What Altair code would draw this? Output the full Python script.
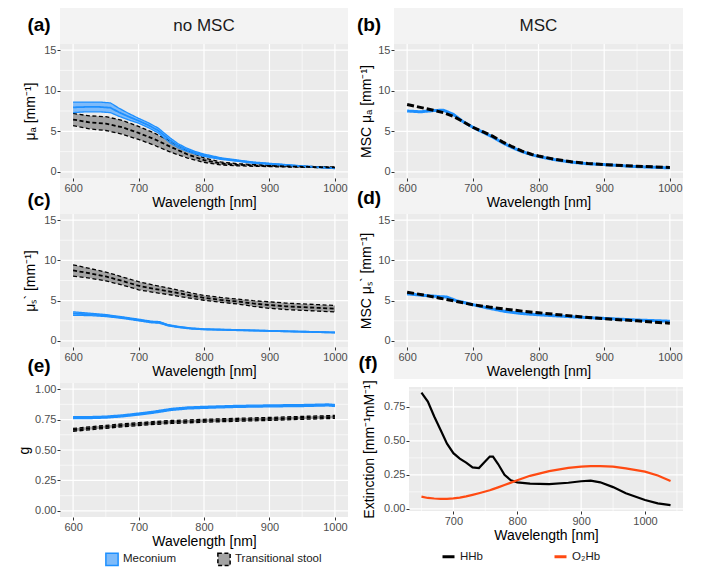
import altair as alt
import pandas as pd

FONT = "Liberation Sans"
BLUE = "#1E90FF"
BLUE_FILL = "#7EBBFA"
GRAY_FILL = "#A3A3A3"
PANEL_BG = "#EBEBEB"
STRIP_BG = "#F3F3F3"
GROUPS = ["Meconium", "Transitional stool"]
HB_GROUPS = ["HHb", "O₂Hb"]

# ---------------- data ----------------
# (a) no MSC, mu_a
wl_a_mec = [600, 620, 640, 657, 670, 685, 700, 715, 730, 748, 760, 773, 787, 800, 825, 850, 875, 900, 950, 1000]
mua_mec = [7.95, 8.0, 8.0, 7.9, 7.35, 6.8, 6.3, 5.75, 5.1, 3.9, 3.25, 2.75, 2.35, 2.05, 1.65, 1.4, 1.15, 1.0, 0.7, 0.45]
mua_mec_sd = [0.65, 0.6, 0.6, 0.6, 0.5, 0.4, 0.3, 0.3, 0.3, 0.3, 0.25, 0.2, 0.15, 0.15, 0.1, 0.08, 0.07, 0.06, 0.05, 0.04]
wl_a_tr = [600, 625, 650, 675, 700, 725, 750, 775, 800, 825, 850, 900, 950, 1000]
mua_tr = [6.45, 6.1, 5.95, 5.5, 4.8, 4.0, 3.05, 2.15, 1.45, 1.05, 0.88, 0.73, 0.63, 0.55]
mua_tr_sd = [0.75, 0.8, 0.85, 0.85, 0.8, 0.75, 0.65, 0.45, 0.28, 0.18, 0.13, 0.08, 0.06, 0.05]

# (b) MSC, mu_a
wl_b = [600, 620, 640, 655, 670, 685, 700, 715, 730, 745, 760, 775, 790, 800, 825, 850, 875, 900, 950, 1000]
msc_mua_mec = [7.5, 7.4, 7.55, 7.6, 7.1, 6.2, 5.5, 4.9, 4.3, 3.6, 3.0, 2.5, 2.1, 1.9, 1.5, 1.2, 1.0, 0.9, 0.65, 0.5]
msc_mua_tr = [8.3, 7.95, 7.6, 7.3, 6.85, 6.2, 5.5, 4.95, 4.4, 3.7, 3.1, 2.55, 2.15, 1.95, 1.55, 1.25, 1.05, 0.9, 0.7, 0.55]

# (c) no MSC, mu_s'
wl_c_mec = [600, 625, 650, 675, 700, 720, 732, 745, 760, 780, 800, 825, 850, 900, 950, 1000]
mus_mec = [3.4, 3.3, 3.15, 2.9, 2.6, 2.35, 2.3, 1.95, 1.75, 1.55, 1.45, 1.4, 1.35, 1.25, 1.15, 1.05]
mus_mec_sd = [0.22, 0.15, 0.12, 0.1, 0.1, 0.1, 0.1, 0.08, 0.07, 0.06, 0.05, 0.05, 0.05, 0.04, 0.04, 0.04]
wl_c_tr = [600, 625, 650, 675, 700, 725, 750, 775, 800, 825, 850, 875, 900, 925, 950, 975, 1000]
mus_tr = [8.75, 8.4, 8.0, 7.45, 6.85, 6.45, 6.1, 5.7, 5.35, 5.1, 4.9, 4.65, 4.45, 4.3, 4.2, 4.1, 4.0]
mus_tr_sd = [0.7, 0.6, 0.55, 0.5, 0.5, 0.45, 0.4, 0.35, 0.3, 0.3, 0.3, 0.35, 0.4, 0.4, 0.4, 0.4, 0.4]

# (d) MSC, mu_s'
wl_d = [600, 625, 650, 660, 675, 700, 725, 750, 775, 800, 850, 900, 950, 1000]
msc_mus_mec = [5.85, 5.65, 5.5, 5.45, 5.0, 4.5, 4.05, 3.65, 3.4, 3.25, 3.0, 2.8, 2.6, 2.45]
msc_mus_tr = [6.05, 5.7, 5.3, 5.15, 4.9, 4.5, 4.2, 3.95, 3.7, 3.5, 3.1, 2.75, 2.5, 2.2]

# (e) anisotropy g
wl_e = [600, 625, 650, 675, 700, 725, 750, 775, 800, 850, 900, 950, 990, 1000]
g_mec = [0.765, 0.766, 0.77, 0.78, 0.795, 0.812, 0.833, 0.845, 0.85, 0.858, 0.862, 0.865, 0.87, 0.865]
g_mec_sd = [0.008, 0.008, 0.008, 0.008, 0.008, 0.008, 0.008, 0.008, 0.008, 0.008, 0.008, 0.008, 0.008, 0.008]
g_tr = [0.665, 0.678, 0.69, 0.702, 0.712, 0.722, 0.73, 0.735, 0.74, 0.748, 0.755, 0.764, 0.77, 0.772]
g_tr_sd = [0.012, 0.012, 0.012, 0.012, 0.012, 0.012, 0.012, 0.012, 0.012, 0.012, 0.012, 0.012, 0.012, 0.012]

# (f) extinction spectra
wl_f = [650, 660, 670, 680, 690, 700, 710, 720, 730, 740, 750, 757, 762, 770, 780, 790, 800, 820, 850,
        880, 900, 915, 930, 950, 970, 1000, 1020, 1040]
ext_hhb = [0.855, 0.79, 0.68, 0.58, 0.48, 0.41, 0.37, 0.34, 0.305, 0.3, 0.35, 0.385, 0.385, 0.33, 0.25,
           0.21, 0.195, 0.185, 0.182, 0.192, 0.203, 0.207, 0.195, 0.16, 0.115, 0.065, 0.04, 0.027]
ext_o2hb = [0.09, 0.08, 0.076, 0.074, 0.074, 0.077, 0.083, 0.092, 0.103, 0.115, 0.128, 0.137, 0.145, 0.158,
            0.175, 0.193, 0.21, 0.243, 0.278, 0.302, 0.311, 0.315, 0.315, 0.311, 0.298, 0.274, 0.245, 0.205]

# ---------------- layout constants ----------------
WL, WR = 288, 289
HA, HC, HE, HF = 134, 133, 134, 128
ONE = pd.DataFrame({"k": [0]})


def band_df(wl, mean, sd, group):
    return pd.DataFrame({
        "wl": wl, "mean": mean,
        "lo": [m - s for m, s in zip(mean, sd)],
        "hi": [m + s for m, s in zip(mean, sd)],
        "group": group,
    })


def line_df(wl, vals, group):
    return pd.DataFrame({"wl": wl, "mean": vals, "group": group})


def rect(x0, x1, y0, y1, color):
    return alt.Chart(ONE).mark_rect(color=color).encode(
        x=alt.value(x0), x2=alt.value(x1), y=alt.value(y0), y2=alt.value(y1))


def label(text, x, y, size=19, bold=True, color="black"):
    return alt.Chart(ONE).mark_text(
        text=text, fontSize=size, font=FONT, fontWeight="bold" if bold else "normal",
        color=color, align="center", baseline="middle").encode(x=alt.value(x), y=alt.value(y))


def grid(xs, ys, xax, yax, xmaj, xmin, ymaj, ymin, x0, x1, y0, y1):
    layers = []
    for vals, w in ((xmin, 0.6), (xmaj, 1.2)):
        layers.append(alt.Chart(pd.DataFrame({"v": vals})).mark_rule(color="white", strokeWidth=w).encode(
            x=alt.X("v:Q", scale=xs, axis=xax), y=alt.value(y0), y2=alt.value(y1)))
    for vals, w in ((ymin, 0.6), (ymaj, 1.2)):
        layers.append(alt.Chart(pd.DataFrame({"v": vals})).mark_rule(color="white", strokeWidth=w).encode(
            y=alt.Y("v:Q", scale=ys, axis=yax), x=alt.value(x0), x2=alt.value(x1)))
    return layers


fill_scale = alt.Scale(domain=GROUPS, range=[BLUE_FILL, GRAY_FILL])
stroke_scale = alt.Scale(domain=GROUPS, range=[BLUE, "black"])
dash_scale = alt.Scale(domain=GROUPS, range=[[1, 0], [4, 2.5]])
dash_scale_msc = alt.Scale(domain=GROUPS, range=[[1, 0], [7, 3]])

xs = alt.Scale(domain=[580, 1020], nice=False, zero=False)
ys_mu = alt.Scale(domain=[-0.75, 15.75], nice=False, zero=False)
ys_g = alt.Scale(domain=[-0.05, 1.05], nice=False, zero=False)
xs_f = alt.Scale(domain=[630.5, 1059.5], nice=False, zero=False, range=[15, WR])
ys_f = alt.Scale(domain=[-0.016, 0.897], nice=False, zero=False, range=[HF, 4])

X_MAJ = [600, 700, 800, 900, 1000]
X_MIN = [650, 750, 850, 950]


def xaxis(values=X_MAJ):
    return alt.Axis(values=values, format="d", title="Wavelength [nm]", zindex=1, titlePadding=2)


def yaxis(title, values, fmt, tpad, offset=0):
    return alt.Axis(values=values, format=fmt, title=title, zindex=1, offset=offset, titlePadding=tpad)


def band_layers(dfs, ys, yax, legend):
    data = pd.concat(dfs, ignore_index=True)
    base = alt.Chart(data)
    ex = alt.X("wl:Q", scale=xs, axis=xaxis())
    out = [base.mark_area().encode(
        x=ex, y=alt.Y("lo:Q", scale=ys, axis=yax), y2="hi:Q",
        fill=alt.Fill("group:N", scale=fill_scale, legend=legend))]
    for col, w in (("hi", 1.3), ("lo", 1.3), ("mean", 1.8)):
        out.append(base.mark_line(strokeWidth=w).encode(
            x=ex, y=alt.Y(f"{col}:Q", scale=ys, axis=yax),
            stroke=alt.Stroke("group:N", scale=stroke_scale, legend=legend),
            strokeDash=alt.StrokeDash("group:N", scale=dash_scale, legend=legend)))
    return out


def msc_layers(dfs, ys, yax):
    data = pd.concat(dfs, ignore_index=True)
    return [alt.Chart(data).mark_line(strokeWidth=3).encode(
        x=alt.X("wl:Q", scale=xs, axis=xaxis()),
        y=alt.Y("mean:Q", scale=ys, axis=yax),
        stroke=alt.Stroke("group:N", scale=stroke_scale, legend=None),
        strokeDash=alt.StrokeDash("group:N", scale=dash_scale_msc, legend=None))]


MU_VALS = [0, 5, 10, 15]
MU_MIN = [2.5, 7.5, 12.5]

# ---------------- panels ----------------
ya = yaxis("μₐ [mm⁻¹]", MU_VALS, "d", 6)
a = alt.layer(
    rect(0, WL, -36, 0, STRIP_BG),
    rect(0, WL, HA, HA + 36, STRIP_BG),
    label("no MSC", WL / 2, -18, 17, False, "#1a1a1a"),
    label("(a)", -21, -19),
    label("(c)", -21, HA + 22),
    *grid(xs, ys_mu, xaxis(), ya, X_MAJ, X_MIN, MU_VALS, MU_MIN, 0, WL, 0, HA),
    *band_layers([band_df(wl_a_mec, mua_mec, mua_mec_sd, "Meconium"),
                  band_df(wl_a_tr, mua_tr, mua_tr_sd, "Transitional stool")],
                 ys_mu, ya, None),
).properties(width=WL, height=HA)

yb = yaxis("MSC μₐ [mm⁻¹]", MU_VALS, "d", 4)
b = alt.layer(
    rect(0, WR, -36, 0, STRIP_BG),
    rect(0, WR, HA, HA + 36, STRIP_BG),
    label("MSC", WR / 2, -18, 17, False, "#1a1a1a"),
    label("(b)", -25, -19),
    label("(d)", -25, HA + 20),
    *grid(xs, ys_mu, xaxis(), yb, X_MAJ, X_MIN, MU_VALS, MU_MIN, 0, WR, 0, HA),
    *msc_layers([line_df(wl_b, msc_mua_mec, "Meconium"),
                 line_df(wl_b, msc_mua_tr, "Transitional stool")], ys_mu, yb),
).properties(width=WR, height=HA)

yc = yaxis("μₛ` [mm⁻¹]", MU_VALS, "d", 6)
c = alt.layer(
    rect(0, WL, HC, HC + 36, STRIP_BG),
    label("(e)", -21, HC + 19),
    *grid(xs, ys_mu, xaxis(), yc, X_MAJ, X_MIN, MU_VALS, MU_MIN, 0, WL, 0, HC),
    *band_layers([band_df(wl_c_mec, mus_mec, mus_mec_sd, "Meconium"),
                  band_df(wl_c_tr, mus_tr, mus_tr_sd, "Transitional stool")],
                 ys_mu, yc, None),
).properties(width=WL, height=HC)

yd = yaxis("MSC μₛ` [mm⁻¹]", MU_VALS, "d", 4)
d = alt.layer(
    rect(0, WR, HC, HC + 32, STRIP_BG),
    label("(f)", -26, HC + 16),
    *grid(xs, ys_mu, xaxis(), yd, X_MAJ, X_MIN, MU_VALS, MU_MIN, 0, WR, 0, HC),
    *msc_layers([line_df(wl_d, msc_mus_mec, "Meconium"),
                 line_df(wl_d, msc_mus_tr, "Transitional stool")], ys_mu, yd),
).properties(width=WR, height=HC)

legend_e = alt.Legend(
    title=None, orient="none", legendX=45, legendY=169, direction="horizontal",
    symbolType="square", symbolSize=150, symbolStrokeWidth=1.5,
    labelFont=FONT, labelFontSize=11.5, labelColor="#1a1a1a", columnPadding=37, labelOffset=4)

G_VALS = [0, 0.25, 0.5, 0.75, 1.0]
G_MIN = [0.125, 0.375, 0.625, 0.875]
ye = yaxis("g", G_VALS, ".2f", 3)
e = alt.layer(
    *grid(xs, ys_g, xaxis(), ye, X_MAJ, X_MIN, G_VALS, G_MIN, 0, WL, 0, HE),
    *band_layers([band_df(wl_e, g_mec, g_mec_sd, "Meconium"),
                  band_df(wl_e, g_tr, g_tr_sd, "Transitional stool")],
                 ys_g, ye, legend_e),
).properties(width=WL, height=HE)

f_df = pd.concat([line_df(wl_f, ext_hhb, "HHb"), line_df(wl_f, ext_o2hb, "O₂Hb")], ignore_index=True)
F_YVALS = [0, 0.25, 0.5, 0.75]
F_XVALS = [700, 800, 900, 1000]
xf = xaxis(F_XVALS)
yf = yaxis("Extinction [mm⁻¹mM⁻¹]", F_YVALS, ".2f", 7, -15)
f = alt.layer(
    rect(15, WR, 4, HF, PANEL_BG),
    *grid(xs_f, ys_f, xf, yf, F_XVALS, [650, 750, 850, 950, 1050], F_YVALS,
          [0.125, 0.375, 0.625, 0.875], 15, WR, 4, HF),
    alt.Chart(f_df).mark_line(strokeWidth=2.2).encode(
        x=alt.X("wl:Q", scale=xs_f, axis=xf),
        y=alt.Y("mean:Q", scale=ys_f, axis=yf),
        stroke=alt.Stroke("group:N", scale=alt.Scale(domain=HB_GROUPS, range=["black", "#FF4A12"]),
                          legend=alt.Legend(title=None, orient="none", legendX=47, legendY=166,
                                            direction="horizontal", symbolType="stroke",
                                            symbolSize=144, symbolStrokeWidth=3,
                                            labelFont=FONT, labelFontSize=11.5, labelColor="#1a1a1a",
                                            columnPadding=64, labelOffset=4)),
    ),
).properties(width=WR, height=HF, view=alt.ViewBackground(fill="transparent", strokeWidth=0))

chart = alt.concat(
    a, b, c, d, e, f, columns=2, spacing={"row": 36, "column": 46}, bounds="flush"
).resolve_scale(
    fill="independent", stroke="independent", strokeDash="independent"
).resolve_legend(
    fill="independent", stroke="independent", strokeDash="independent"
).properties(
    padding={"left": 9, "top": 0, "right": 0, "bottom": 0}, background="white"
).configure_view(
    fill=PANEL_BG, strokeWidth=0
).configure_axis(
    labelFont=FONT, labelFontSize=11, labelColor="#4d4d4d",
    titleFont=FONT, titleFontSize=14, titleFontWeight="normal", titleColor="black",
    tickColor="#333333", tickSize=3, tickWidth=1, domain=False, grid=False,
    labelPadding=1,
)

chart.save("out.html", embed_options={"renderer": "svg", "actions": False})
